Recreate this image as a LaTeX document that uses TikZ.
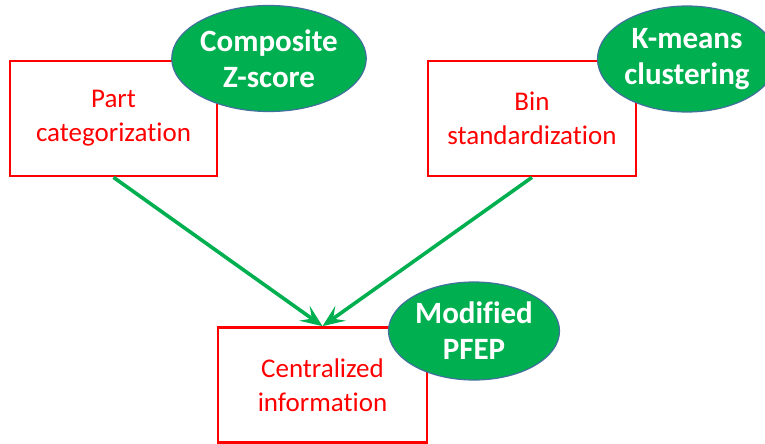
\documentclass[tikz,border=0pt]{standalone}
\usepackage{fontspec}
\setmainfont{Carlito}[Ligatures=CommonOff]
\usetikzlibrary{arrows.meta,shapes.geometric}
\definecolor{pgreen}{HTML}{00B050}
\definecolor{pred}{HTML}{FF0000}
\definecolor{pblue}{HTML}{41719C}
\tikzset{
  stepbox/.style={draw=pred, line width=2.7pt, fill=white, text=pred, align=center,
    inner sep=0pt, font=\fontsize{27}{34}\selectfont},
  methodell/.style={ellipse, draw=pblue, line width=1.2pt, fill=pgreen, text=white, align=center,
    inner sep=0pt, font=\bfseries\fontsize{31}{36}\selectfont},
  flow/.style={draw=pgreen, line width=3.6pt,
    -{Stealth[length=22pt, width=18pt, inset=9pt]}}
}
\begin{document}
\begin{tikzpicture}[x=1pt,y=-1pt]
\useasboundingbox (0,0) rectangle (765,444);
\clip (0,0) rectangle (765,444);
\node[stepbox, minimum width=207pt, minimum height=115pt] (part) at (113.5,118.5) {Part\\categorization};
\node[stepbox, minimum width=208pt, minimum height=115pt] (bin) at (532,118.5) {Bin\\standardization};
\node[stepbox, minimum width=209pt, minimum height=115pt] (cent) at (322.5,385) {Centralized\\information};
\node[methodell, minimum width=177pt, minimum height=106pt] (zs) at (269,58.5) {Composite\\Z-score};
\node[methodell, minimum width=179pt, minimum height=106pt] (km) at (687,59) {K-means\\clustering};
\node[methodell, minimum width=171pt, minimum height=98pt] (pfep) at (474,331) {Modified\\PFEP};
\draw[flow] (part.south) -- (cent.north);
\draw[flow] (bin.south) -- (cent.north);
\end{tikzpicture}
\end{document}
